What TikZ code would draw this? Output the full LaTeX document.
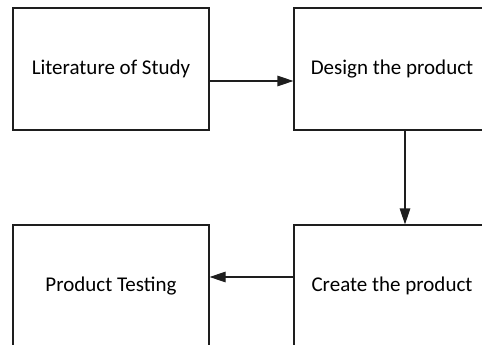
\documentclass[tikz,border=0pt]{standalone}
\usepackage{fontspec}
\setmainfont{Carlito}
\usepackage{xcolor}
\usepackage{tikz}
\usetikzlibrary{arrows.meta, positioning, calc}
\definecolor{mydark}{RGB}{30,30,30}
\tikzset{
  stepbox/.style={rectangle, draw=mydark, fill=white,
    minimum width=196pt, minimum height=122pt, inner sep=0pt,
    font=\fontsize{21}{25}\selectfont, line width=1.1pt},
  arrow/.style={-{Triangle[length=16pt, width=10.5pt]}, line width=1.1pt, color=mydark}
}

\begin{document}
\begin{tikzpicture}[x=1pt, y=-1pt]
  \useasboundingbox (0,0) rectangle (482,345);
  \clip (0,0) rectangle (482,345);
  \node[stepbox] (lit) at (111,69) {Literature of Study};
  \node[stepbox] (design) at (392,69) {Design the product};
  \node[stepbox] (create) at (392,286) {Create the product};
  \node[stepbox] (test) at (111,286) {Product Testing};
  % the flow between the steps
  \draw[arrow] ([yshift=-12pt]lit.east) -- ([yshift=-12pt]design.west);
  \draw[arrow] ([xshift=13pt]design.south) -- ([xshift=13pt]create.north);
  \draw[arrow] ([yshift=9pt]create.west) -- ([yshift=9pt]test.east);
\end{tikzpicture}
\end{document}
